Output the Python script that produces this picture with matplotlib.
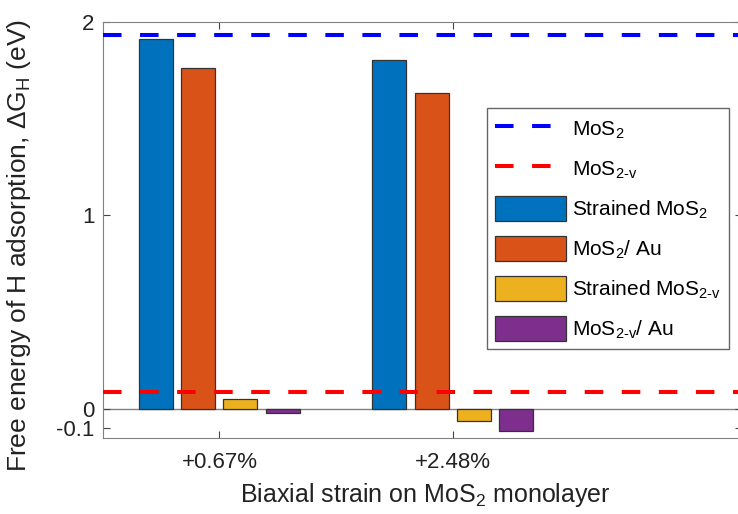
import matplotlib.pyplot as plt
from matplotlib.lines import Line2D
from matplotlib.patches import Patch
import numpy as np

plt.rcParams["font.family"] = ["Liberation Sans", "DejaVu Sans"]
plt.rcParams["mathtext.default"] = "regular"

strain_labels = ["+0.67%", "+2.48%"]
strained_mos2 = [1.91, 1.80]
mos2_au = [1.76, 1.63]
strained_mos2v = [0.05, -0.06]
mos2v_au = [-0.022, -0.112]
mos2_ref = 1.932
mos2v_ref = 0.089

series = [
    ("Strained MoS$_2$", strained_mos2, "#0072BD"),
    ("MoS$_2$/ Au", mos2_au, "#D95319"),
    ("Strained MoS$_{2\u2010v}$", strained_mos2v, "#EDB120"),
    ("MoS$_{2\u2010v}$/ Au", mos2v_au, "#7E2F8E"),
]

W, H = 738, 514
left, right, top, bottom = 102.7, 742, 21.7, 438.3
fig = plt.figure(figsize=(W / 100, H / 100), dpi=100)
ax = fig.add_axes([left / W, 1 - bottom / H, (right - left) / W, (bottom - top) / H])

x = np.arange(1, len(strain_labels) + 1)
offsets = [-0.272, -0.09, 0.09, 0.272]
for (label, vals, color), off in zip(series, offsets):
    ax.bar(x + off, vals, width=0.146, color=color, edgecolor="#333333",
           linewidth=0.9, zorder=2)

dash = (4.6, 4.6)
ax.axhline(0, color="#808080", linewidth=1, zorder=1)
ax.axhline(mos2_ref, color="#0000FF", linewidth=2.9, dashes=dash, zorder=3)
ax.axhline(mos2v_ref, color="#FF0000", linewidth=2.9, dashes=dash, zorder=3)

ax.set_xlim(0.5, 0.5 + (right - left) / 233.4)
ax.set_ylim(-0.151, 2.0)
ax.set_xticks(x)
ax.set_xticklabels(strain_labels)
ax.set_yticks([-0.1, 0, 1, 2])
ax.set_yticklabels(["-0.1", "0", "1", "2"])
ax.tick_params(direction="in", top=True, right=True, labelsize=16,
               color="#444444", length=5, labelcolor="#222222")
ax.tick_params(axis="x", pad=10)
ax.tick_params(axis="y", pad=6)
for sp in ax.spines.values():
    sp.set_color("#808080")

ax.set_xlabel("Biaxial strain on MoS$_2$ monolayer", fontsize=18, color="#222222")
ax.xaxis.set_label_coords(0.504, -0.1025)
ax.set_ylabel("Free energy of H adsorption, $\\Delta$G$_H$ (eV)", fontsize=19,
              color="#222222")
ax.yaxis.set_label_coords(-0.109, 0.464)

handles = [
    Line2D([], [], color="#0000FF", linewidth=2.9, dashes=dash),
    Line2D([], [], color="#FF0000", linewidth=2.9, dashes=dash),
]
labels = ["MoS$_2$", "MoS$_{2\u2010v}$"]
for label, vals, color in series:
    handles.append(Patch(facecolor=color, edgecolor="#333333", linewidth=0.9))
    labels.append(label)

leg = ax.legend(handles, labels, loc="upper left",
                bbox_to_anchor=((487 - left) / (right - left), (bottom - 108) / (bottom - top)),
                borderaxespad=0, fontsize=15, handlelength=3.37, handleheight=1.44,
                labelspacing=0.74, handletextpad=0.3, borderpad=0.4,
                fancybox=False, framealpha=1)
leg.get_frame().set_edgecolor("#666666")

fig.savefig("out.png", dpi=100)
